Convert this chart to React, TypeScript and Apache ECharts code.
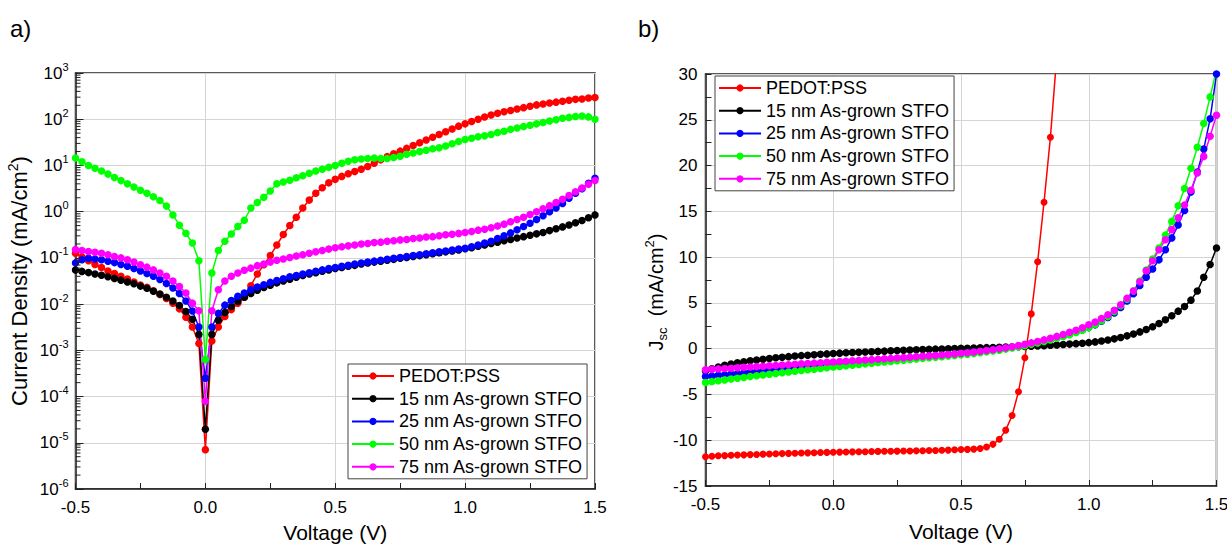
import React, { useEffect, useRef } from "react";
import * as echarts from "echarts";

// ---------- data ----------
const voltage = [
  -0.5, -0.475, -0.45, -0.425, -0.4, -0.375, -0.35, -0.325, -0.3, -0.275,
  -0.25, -0.225, -0.2, -0.175, -0.15, -0.125, -0.1, -0.075, -0.05, -0.025,
  0, 0.025, 0.05, 0.075, 0.1, 0.125, 0.15, 0.175, 0.2, 0.225,
  0.25, 0.275, 0.3, 0.325, 0.35, 0.375, 0.4, 0.425, 0.45, 0.475,
  0.5, 0.525, 0.55, 0.575, 0.6, 0.625, 0.65, 0.675, 0.7, 0.725,
  0.75, 0.775, 0.8, 0.825, 0.85, 0.875, 0.9, 0.925, 0.95, 0.975,
  1, 1.025, 1.05, 1.075, 1.1, 1.125, 1.15, 1.175, 1.2, 1.225,
  1.25, 1.275, 1.3, 1.325, 1.35, 1.375, 1.4, 1.425, 1.45, 1.475,
  1.5,
];

const seriesNames = [
  "PEDOT:PSS",
  "15 nm As-grown STFO",
  "25 nm As-grown STFO",
  "50 nm As-grown STFO",
  "75 nm As-grown STFO",
];
const seriesColors = ["#ff0000", "#000000", "#0000ff", "#00ff00", "#ff00ff"];

// Panel a) dark current density, |J| (mA/cm2), log scale
const darkPedot = [
  0.126, 0.105, 0.087, 0.072, 0.062, 0.052, 0.046, 0.04, 0.035, 0.03,
  0.026, 0.023, 0.0195, 0.0162, 0.0132, 0.0105, 0.0079, 0.0052, 0.0032, 0.0014,
  7.1e-6, 0.0016, 0.0032, 0.0054, 0.0076, 0.0105, 0.0141, 0.025, 0.045, 0.071,
  0.112, 0.19, 0.32, 0.5, 0.76, 1.2, 1.78, 2.5, 3.3, 4.2,
  5.0, 5.8, 6.6, 7.4, 8.3, 9.5, 11.2, 13.2, 15.5, 17.8,
  20.4, 23.4, 26.9, 30.9, 35.5, 40.7, 46.8, 53.7, 61.7, 70.8,
  79.4, 89.1, 100, 112, 123, 135, 145, 155, 166, 178,
  191, 204, 214, 224, 234, 245, 257, 269, 275, 288,
  295,
];
const dark15 = [
  0.055, 0.051, 0.048, 0.045, 0.042, 0.039, 0.036, 0.033, 0.03, 0.0275,
  0.0245, 0.022, 0.019, 0.0166, 0.0141, 0.0117, 0.0093, 0.0069, 0.0047, 0.0022,
  1.95e-5, 0.0022, 0.0045, 0.0066, 0.0089, 0.0115, 0.0141, 0.017, 0.02, 0.023,
  0.0257, 0.0288, 0.0316, 0.0347, 0.038, 0.0417, 0.0447, 0.0479, 0.0513, 0.055,
  0.0589, 0.0617, 0.066, 0.069, 0.074, 0.0776, 0.081, 0.085, 0.089, 0.093,
  0.098, 0.102, 0.107, 0.112, 0.117, 0.123, 0.129, 0.135, 0.141, 0.148,
  0.158, 0.166, 0.178, 0.19, 0.204, 0.219, 0.234, 0.251, 0.269, 0.288,
  0.309, 0.331, 0.355, 0.389, 0.427, 0.468, 0.513, 0.575, 0.646, 0.741,
  0.851,
];
const dark25 = [
  0.078, 0.091, 0.098, 0.095, 0.091, 0.085, 0.079, 0.072, 0.066, 0.059,
  0.052, 0.046, 0.04, 0.034, 0.028, 0.0224, 0.017, 0.0117, 0.0071, 0.0032,
  2.5e-4, 0.0032, 0.0063, 0.0095, 0.012, 0.0148, 0.0174, 0.0204, 0.0234, 0.0263,
  0.0295, 0.0324, 0.0355, 0.039, 0.0417, 0.0447, 0.0479, 0.0513, 0.055, 0.0589,
  0.0617, 0.066, 0.069, 0.074, 0.0776, 0.081, 0.085, 0.089, 0.093, 0.098,
  0.102, 0.107, 0.112, 0.117, 0.123, 0.129, 0.135, 0.141, 0.148, 0.155,
  0.162, 0.174, 0.19, 0.209, 0.229, 0.263, 0.302, 0.347, 0.407, 0.479,
  0.562, 0.676, 0.813, 1.0, 1.2, 1.51, 1.95, 2.5, 3.15, 4.1,
  5.3,
];
const dark50 = [
  14.5, 12.0, 10.0, 8.7, 7.6, 6.5, 5.5, 4.7, 4.0, 3.4,
  2.9, 2.5, 2.1, 1.74, 1.32, 0.85, 0.51, 0.34, 0.21, 0.087,
  6.3e-4, 0.047, 0.145, 0.23, 0.33, 0.48, 0.65, 1.2, 1.58, 2.04,
  2.8, 4.0, 4.4, 4.8, 5.4, 6.0, 6.8, 7.6, 8.3, 9.1,
  10, 11.2, 12.3, 13.2, 13.8, 14.1, 14.5, 14.1, 14.1, 14.8,
  15.8, 17.4, 18.6, 20, 21.4, 22.9, 24, 26.3, 29.5, 33,
  36.3, 38.9, 41.7, 43.7, 46.8, 51.3, 55, 60.3, 64.6, 69.2,
  74.1, 79.4, 85.1, 91.2, 97.7, 104.7, 109.6, 114.8, 117.5, 112.2,
  100,
];
const dark75 = [
  0.151, 0.145, 0.138, 0.132, 0.126, 0.117, 0.107, 0.1, 0.091, 0.081,
  0.071, 0.063, 0.055, 0.047, 0.04, 0.0316, 0.024, 0.0174, 0.0105, 0.0072,
  7.9e-5, 0.0072, 0.0204, 0.0316, 0.04, 0.047, 0.054, 0.06, 0.068, 0.074,
  0.081, 0.089, 0.095, 0.102, 0.11, 0.117, 0.126, 0.135, 0.145, 0.155,
  0.166, 0.174, 0.182, 0.19, 0.2, 0.204, 0.214, 0.219, 0.229, 0.234,
  0.245, 0.251, 0.263, 0.269, 0.282, 0.288, 0.302, 0.316, 0.324, 0.339,
  0.355, 0.372, 0.398, 0.417, 0.447, 0.49, 0.537, 0.603, 0.676, 0.759,
  0.871, 1.0, 1.15, 1.35, 1.58, 1.86, 2.24, 2.69, 3.24, 3.9,
  4.7,
];

// Panel b) illuminated J-V (mA/cm2), linear scale
const lightPedot = [
  -11.8, -11.75, -11.7, -11.68, -11.65, -11.62, -11.6, -11.57, -11.55, -11.52,
  -11.5, -11.48, -11.46, -11.44, -11.42, -11.4, -11.38, -11.37, -11.35, -11.33,
  -11.32, -11.3, -11.29, -11.27, -11.26, -11.25, -11.24, -11.22, -11.21, -11.2,
  -11.19, -11.18, -11.17, -11.16, -11.15, -11.13, -11.12, -11.1, -11.08, -11.05,
  -11.02, -11.0, -10.97, -10.9, -10.75, -10.45, -9.9, -8.9, -7.3, -4.7,
  -1.0, 3.8, 9.5, 16.0, 23.1, 32.0,
];
const light15 = [
  -2.45, -2.2, -2.0, -1.82, -1.67, -1.54, -1.42, -1.32, -1.23, -1.15,
  -1.07, -1.0, -0.93, -0.87, -0.81, -0.76, -0.71, -0.66, -0.61, -0.57,
  -0.53, -0.49, -0.45, -0.42, -0.39, -0.36, -0.33, -0.3, -0.27, -0.24,
  -0.21, -0.18, -0.15, -0.13, -0.1, -0.08, -0.05, -0.03, -0.01, 0.01,
  0.03, 0.05, 0.07, 0.09, 0.11, 0.13, 0.15, 0.17, 0.19, 0.21,
  0.24, 0.27, 0.3, 0.33, 0.37, 0.41, 0.45, 0.5, 0.55, 0.6,
  0.66, 0.74, 0.83, 0.94, 1.07, 1.22, 1.4, 1.6, 1.83, 2.1,
  2.4, 2.75, 3.15, 3.6, 4.1, 4.6, 5.3, 6.3, 7.8, 9.2,
  11.0,
];
const light25 = [
  -3.05, -2.98, -2.91, -2.84, -2.77, -2.71, -2.64, -2.57, -2.5, -2.43,
  -2.37, -2.3, -2.23, -2.16, -2.1, -2.03, -1.97, -1.9, -1.84, -1.77,
  -1.71, -1.65, -1.59, -1.53, -1.47, -1.41, -1.35, -1.29, -1.23, -1.17,
  -1.11, -1.06, -1.0, -0.95, -0.89, -0.84, -0.78, -0.72, -0.66, -0.6,
  -0.54, -0.47, -0.4, -0.32, -0.24, -0.15, -0.06, 0.04, 0.15, 0.27,
  0.4, 0.54, 0.69, 0.85, 1.02, 1.2, 1.39, 1.6, 1.82, 2.05,
  2.3, 2.6, 3.0, 3.4, 3.9, 4.5, 5.2, 6.0, 6.9, 7.8,
  8.7, 9.7, 10.8, 12.1, 13.5, 15.1, 17.1, 19.3, 21.8, 25.1,
  30.0,
];
const light50 = [
  -3.7, -3.6, -3.5, -3.41, -3.32, -3.23, -3.14, -3.05, -2.96, -2.88,
  -2.8, -2.71, -2.63, -2.55, -2.47, -2.39, -2.31, -2.24, -2.16, -2.09,
  -2.01, -1.94, -1.87, -1.8, -1.73, -1.66, -1.59, -1.52, -1.45, -1.39,
  -1.32, -1.26, -1.19, -1.13, -1.06, -1.0, -0.94, -0.87, -0.81, -0.74,
  -0.67, -0.6, -0.52, -0.44, -0.35, -0.26, -0.16, -0.05, 0.07, 0.2,
  0.33, 0.47, 0.62, 0.78, 0.95, 1.13, 1.32, 1.53, 1.76, 2.0,
  2.3, 2.65, 3.05, 3.5, 4.05, 4.7, 5.4, 6.3, 7.4, 8.6,
  9.8, 11.0, 12.4, 13.9, 15.6, 17.5, 19.7, 22.0, 24.6, 27.5,
  30.5,
];
const light75 = [
  -2.3, -2.26, -2.21, -2.17, -2.13, -2.09, -2.04, -2.0, -1.96, -1.92,
  -1.87, -1.83, -1.79, -1.75, -1.7, -1.66, -1.62, -1.58, -1.53, -1.49,
  -1.45, -1.41, -1.37, -1.32, -1.28, -1.24, -1.2, -1.15, -1.11, -1.07,
  -1.02, -0.98, -0.93, -0.89, -0.84, -0.79, -0.74, -0.69, -0.63, -0.57,
  -0.51, -0.44, -0.37, -0.29, -0.21, -0.12, -0.02, 0.09, 0.21, 0.34,
  0.48, 0.63, 0.79, 0.96, 1.14, 1.34, 1.55, 1.78, 2.02, 2.29,
  2.6, 2.9, 3.3, 3.7, 4.2, 4.8, 5.5, 6.3, 7.3, 8.5,
  9.6, 10.8, 11.9, 13.0, 14.3, 15.7, 17.3, 19.2, 21.0, 23.2,
  25.5,
];

const darkSets = [darkPedot, dark15, dark25, dark50, dark75];
const lightSets = [lightPedot, light15, light25, light50, light75];

// log-axis decades for the minor ticks of panel a)
const logDecades = [1e-6, 1e-5, 1e-4, 1e-3, 1e-2, 1e-1, 1, 10, 100];
const logMinorMultipliers = [2, 3, 4, 5, 6, 7, 8, 9];

const FONT = "Liberation Sans, Arial, Helvetica, sans-serif";

function pairs(vals: number[]) {
  return vals.map((v, i) => [voltage[i], v]);
}

export default function App() {
  const ref = useRef<HTMLDivElement>(null);

  useEffect(() => {
    if (!ref.current) return;
    const chart = echarts.init(ref.current, undefined, { renderer: "svg" });

    const axisText = { color: "#000", fontFamily: FONT, fontSize: 17 };

    const xAxisCommon = (gridIndex: number, nameGap: number) => ({
      type: "value",
      gridIndex,
      min: -0.5,
      max: 1.5,
      interval: 0.5,
      axisLine: { show: true, onZero: false, lineStyle: { color: "#222", width: 1.5 } },
      axisTick: { show: true, inside: true, length: 6, lineStyle: { color: "#222", width: 1 } },
      minorTick: { show: true, splitNumber: 2, length: 6, lineStyle: { color: "#222", width: 1 } },
      splitLine: { show: true, lineStyle: { color: "#d4d4d4", width: 1 } },
      axisLabel: {
        ...axisText,
        margin: 10,
        formatter: (v: number) => v.toFixed(1),
      },
      name: "Voltage (V)",
      nameLocation: "middle",
      nameGap,
      nameTextStyle: { color: "#000", fontFamily: FONT, fontSize: 21 },
    });

    const legendCommon = {
      orient: "vertical",
      data: seriesNames,
      backgroundColor: "#fff",
      borderColor: "#444",
      borderWidth: 1,
      padding: [3, 4, 3, 3],
      itemWidth: 42,
      itemHeight: 9,
      itemGap: 4.7,
      textStyle: { color: "#000", fontFamily: FONT, fontSize: 18, lineHeight: 18 },
    };

    const series: any[] = [];
    darkSets.forEach((vals, k) =>
      series.push({
        name: seriesNames[k],
        type: "line",
        xAxisIndex: 0,
        yAxisIndex: 0,
        data: pairs(vals),
        symbol: "circle",
        symbolSize: 7.5,
        color: seriesColors[k],
        lineStyle: { width: 1.5, color: seriesColors[k] },
        itemStyle: { color: seriesColors[k] },
      })
    );
    lightSets.forEach((vals, k) =>
      series.push({
        name: seriesNames[k],
        type: "line",
        xAxisIndex: 1,
        yAxisIndex: 1,
        data: pairs(vals),
        symbol: "circle",
        symbolSize: k === 0 ? 7 : 7.5,
        color: seriesColors[k],
        lineStyle: { width: 1.5, color: seriesColors[k] },
        itemStyle: { color: seriesColors[k] },
      })
    );

    const panelLabels = [
      { type: "text", left: 10, top: 16, style: { text: "a)", fontSize: 24, fontFamily: FONT, fill: "#000" } },
      { type: "text", left: 638, top: 16, style: { text: "b)", fontSize: 24, fontFamily: FONT, fill: "#000" } },
    ];

    chart.setOption({
      animation: false,
      backgroundColor: "#fff",
      textStyle: { fontFamily: FONT },
      graphic: panelLabels,
      grid: [
        { left: 75.5, top: 73, width: 519.5, height: 416, show: true, borderColor: "#222", borderWidth: 1.5, backgroundColor: "transparent", outerBoundsMode: "none", containLabel: false },
        { left: 705.5, top: 74, width: 511, height: 412, show: true, borderColor: "#222", borderWidth: 1.5, backgroundColor: "transparent", outerBoundsMode: "none", containLabel: false },
      ],
      xAxis: [xAxisCommon(0, 33), xAxisCommon(1, 35)],
      yAxis: [
        {
          type: "log",
          gridIndex: 0,
          logBase: 10,
          min: 1e-6,
          max: 1e3,
          axisLine: { show: true, onZero: false, lineStyle: { color: "#222", width: 1.5 } },
          axisTick: { show: true, inside: true, length: 8, lineStyle: { color: "#222", width: 1 } },
          splitLine: { show: true, lineStyle: { color: "#d4d4d4", width: 1 } },
          axisLabel: {
            margin: 7,
            formatter: (v: number) => `{b|10}{s|${Math.round(Math.log10(v))}}`,
            rich: {
              b: { color: "#000", fontFamily: FONT, fontSize: 17, lineHeight: 24 },
              s: { color: "#000", fontFamily: FONT, fontSize: 11, verticalAlign: "top", lineHeight: 12 },
            },
          },
          name: "{a|Current Density (mA/cm}{s|2}{a|)}",
          nameLocation: "middle",
          nameGap: 42,
          nameTextStyle: {
            rich: {
              a: { color: "#000", fontFamily: FONT, fontSize: 22, lineHeight: 28 },
              s: { color: "#000", fontFamily: FONT, fontSize: 14, verticalAlign: "top", lineHeight: 14 },
            },
          },
        },
        {
          type: "value",
          gridIndex: 1,
          min: -15,
          max: 30,
          interval: 5,
          axisLine: { show: true, onZero: false, lineStyle: { color: "#222", width: 1.5 } },
          axisTick: { show: true, inside: true, length: 6, lineStyle: { color: "#222", width: 1 } },
          minorTick: { show: true, splitNumber: 2, length: 6, lineStyle: { color: "#222", width: 1 } },
          splitLine: { show: true, lineStyle: { color: "#d4d4d4", width: 1 } },
          axisLabel: { ...axisText, margin: 8 },
          name: "{a|J}{b|sc}{a|  (mA/cm}{s|2}{a|)}",
          nameLocation: "middle",
          nameGap: 37,
          nameTextStyle: {
            padding: [0, 24, 0, 0],
            rich: {
              a: { color: "#000", fontFamily: FONT, fontSize: 20, lineHeight: 26 },
              b: { color: "#000", fontFamily: FONT, fontSize: 13, verticalAlign: "bottom", lineHeight: 14 },
              s: { color: "#000", fontFamily: FONT, fontSize: 13, verticalAlign: "top", lineHeight: 14 },
            },
          },
        },
      ],
      legend: [
        { ...legendCommon, left: 348, top: 364 },
        { ...legendCommon, left: 715, top: 76 },
      ],
      series,
    });

    // minor ticks of the log axis, placed through the axis' own scale
    const tickLines: any[] = [];
    logDecades.forEach((d) =>
      logMinorMultipliers.forEach((m) => {
        const p = chart.convertToPixel({ xAxisIndex: 0, yAxisIndex: 0 }, [-0.5, d * m]) as number[];
        if (p && isFinite(p[0]) && isFinite(p[1])) {
          tickLines.push({
            type: "line",
            silent: true,
            z: 100,
            shape: { x1: p[0], y1: p[1], x2: p[0] + 5, y2: p[1] },
            style: { stroke: "#222", lineWidth: 1 },
          });
        }
      })
    );
    chart.setOption({ graphic: [...panelLabels, ...tickLines] });

    return () => chart.dispose();
  }, []);

  return (
    <div
      ref={ref}
      style={{ position: "fixed", left: 0, top: 0, width: 1227, height: 547, background: "#fff" }}
    />
  );
}
